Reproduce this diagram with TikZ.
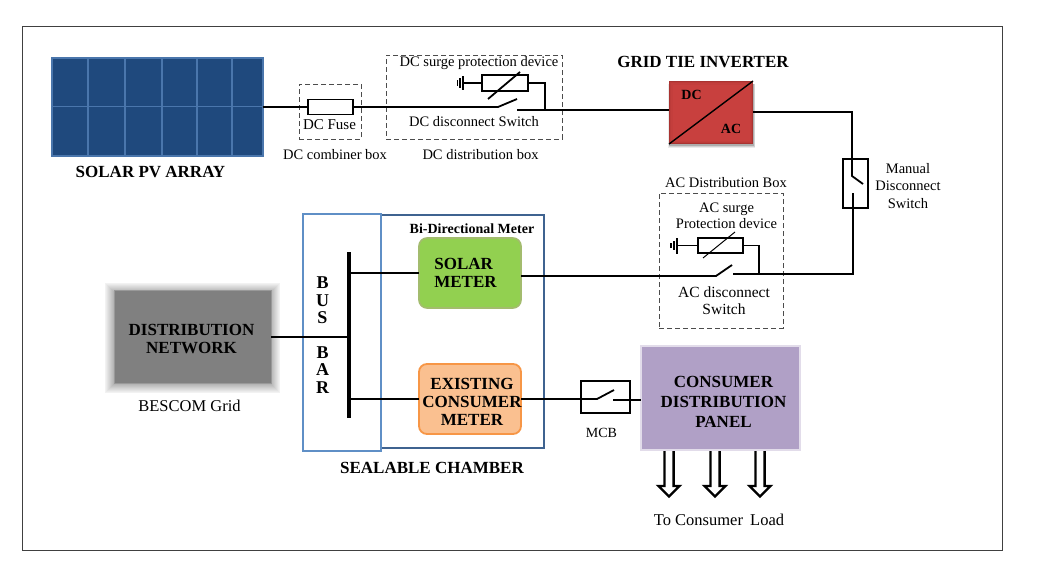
\documentclass[tikz,border=0pt]{standalone}
\usepackage{fontspec}
\setmainfont{Liberation Serif}
\newcommand{\fsz}[1]{\fontsize{#1}{#1}\selectfont}
\definecolor{panelblue}{HTML}{1F497D}
\definecolor{panelline}{HTML}{4A76AC}
\definecolor{busblue}{HTML}{5F8FC6}
\definecolor{chamberblue}{HTML}{3F6390}
\definecolor{solarfill}{HTML}{92D050}
\definecolor{solarline}{HTML}{A3BC6E}
\definecolor{meterfill}{HTML}{FAC090}
\definecolor{meterline}{HTML}{F79646}
\definecolor{cdpfill}{HTML}{B0A0C6}
\definecolor{cdpline}{HTML}{E2DCEA}
\definecolor{invfill}{HTML}{C8403E}
\definecolor{invedge}{HTML}{A93331}
\tikzset{
  x=1pt,y=-1pt,
  every node/.style={inner sep=0pt,outer sep=0pt},
  wire/.style={line width=1.8pt,black},
  dashbox/.style={draw=black!70,line width=1pt,dash pattern=on 5pt off 3pt},
  comp/.style={draw=black,line width=1.8pt,fill=white},
  lab/.style={font=\fsz{14.5},align=center,text=black},
  blab/.style={font=\fsz{17}\bfseries,align=center,text=black},
  loadarrow/.style={draw=black,line width=2.3pt,fill=white,line join=miter},
}
\begin{document}
\begin{tikzpicture}
\useasboundingbox (0,0) rectangle (1039,568);
\fill[white] (0,0) rectangle (1039,568);
\draw[black!75,line width=1pt] (22.5,26.5) rectangle (1002.5,550);

% Solar panel
\node[draw=panelline,line width=1.2pt,fill=panelblue,minimum width=211pt,minimum height=98pt] (panel) at (157.5,107) {};
\foreach \vx in {88,125,162,197,232}{\draw[panelline,line width=1.4pt] (\vx,58) -- (\vx,156);}
\draw[panelline,line width=1.4pt] (52,106.5) -- (263,106.5);
\node[blab] (pvlabel) at (150.5,172) {SOLAR PV ARRAY};

% DC combiner box
\node[dashbox,minimum width=62pt,minimum height=55pt] (combiner) at (330.2,111.7) {};
\node[comp,minimum width=45pt,minimum height=15pt] (fuse) at (330.5,107) {};
\node[lab,font=\fsz{15}] (fuselabel) at (329.5,125) {DC Fuse};
\node[lab] (combinerlabel) at (335,155) {DC combiner box};
\draw[wire] (panel.east) -- (fuse.west);

% DC distribution box
\node[dashbox,minimum width=176pt,minimum height=84pt] (dcbox) at (474.2,97.2) {};
\node[lab] (surgelabel) at (479,63.5) {DC surge protection device};
\node[lab] (dcswlabel) at (474,122) {DC disconnect Switch};
\node[lab] (dcboxlabel) at (480.5,155) {DC distribution box};
\node[comp,minimum width=46pt,minimum height=16pt] (dcres) at (505,83) {};
\coordinate (dchinge) at (498,107);
\coordinate (dcblade) at (517,99);
\coordinate (dccontact) at (517,110);
\coordinate (dcjoin) at (545,110);
\coordinate (dcup) at (545,83);
\coordinate (dcgnd) at (463,83);
\coordinate (dcdiagA) at (488,99);
\coordinate (dcdiagB) at (520,72);
\draw[wire] (fuse.east) -- (dchinge) -- (dcblade);
\draw[wire] (dcres.east) -- (dcup) -- (dcjoin);
\draw[wire] (dcres.west) -- (dcgnd);
\draw[wire] (463,76) -- (463,90);
\draw[line width=1.5pt] (460,78) -- (460,88);
\draw[line width=1.5pt] (457.5,80) -- (457.5,86);
\draw[wire] (dcdiagA) -- (dcdiagB);

% Inverter
\node[blab] (invlabel) at (703,62) {GRID TIE INVERTER};
\fill[black!8] (668,84) rectangle (755,148);
\fill[black!18] (669,84) rectangle (754.5,147);
\fill[black!32] (669,84) rectangle (754,145.5);
\node[fill=invedge,minimum width=84pt,minimum height=63pt] (inv) at (711,112.5) {};
\fill[invfill!60!invedge] (670,82) rectangle (752,142.5);
\fill[invfill!85!invedge] (671,83) rectangle (751,141.5);
\fill[invfill] (672.5,84.5) rectangle (750,140.5);
\draw[line width=1.4pt] (inv.south west) -- (inv.north east);
\node[font=\fsz{14}\bfseries] (invdc) at (691.5,95) {DC};
\node[font=\fsz{14}\bfseries] (invac) at (731,129) {AC};
\draw[wire] (dccontact) -- (dccontact -| inv.west);

% Manual disconnect
\node[comp,fill=white,minimum width=25pt,minimum height=49pt] (manual) at (855.5,183.5) {};
\coordinate (invturn) at (852,112);
\coordinate (mantopin) at (852,176);
\coordinate (manblade) at (863,184);
\coordinate (manlow) at (853,193);
\coordinate (mancorner) at (853,274);
\draw[wire] (inv.east |- invturn) -- (invturn) -- (mantopin) -- (manblade);
\node[lab] (manuallabel) at (908,186) {Manual\\[2.6pt]Disconnect\\[2.6pt]Switch};

% AC distribution box
\node[dashbox,minimum width=124pt,minimum height=135pt] (acbox) at (721.2,260.7) {};
\node[lab] (acboxlabel) at (726,182.5) {AC Distribution Box};
\node[lab] (acsurgelabel) at (726.5,215.5) {AC surge\\[1.5pt]Protection device};
\node[lab,font=\fsz{15.5}] (acswlabel) at (724,300.5) {AC disconnect\\[2pt]Switch};
\node[comp,minimum width=45pt,minimum height=15pt] (acres) at (720.5,245.5) {};
\coordinate (achinge) at (716,276);
\coordinate (acblade) at (732,265);
\coordinate (accontact) at (733,274);
\coordinate (acup) at (759,245.5);
\coordinate (acjoin) at (759,274);
\coordinate (acgnd) at (677,245.5);
\coordinate (acdiagA) at (703,258);
\coordinate (acdiagB) at (735,232);
\draw[wire] (acres.east) -- (acup) -- (acjoin);
\draw[wire] (acres.west) -- (acgnd);
\draw[wire] (677,238) -- (677,254);
\draw[line width=1.5pt] (674,241) -- (674,250);
\draw[line width=1.5pt] (671,243) -- (671,248);
\draw[line width=1pt] (acdiagA) -- (acdiagB);
\draw[wire] (accontact) -- (mancorner) -- (manlow);

% Chamber
\node[draw=chamberblue,line width=2.2pt,minimum width=163pt,minimum height=233pt] (chamber) at (462.5,331.5) {};
\node[draw=busblue,line width=2.4pt,minimum width=78pt,minimum height=237pt] (busbox) at (342,332.5) {};
\node[font=\fsz{14}\bfseries] (bidir) at (472,228.5) {Bi-Directional Meter};
\node[blab] (sealable) at (432,467.5) {SEALABLE CHAMBER};
\node[font=\fsz{18}\bfseries,align=center] (busletters) at (322.5,335) {B\\[-0.5pt]U\\[-0.5pt]S\\[16.5pt]B\\[-0.5pt]A\\[-0.5pt]R};
\node[fill=black,minimum width=4.4pt,minimum height=166pt] (bus) at (349,335) {};

% Meters
\node[draw=solarline,line width=1.6pt,fill=solarfill,rounded corners=8pt,minimum width=102pt,minimum height=70pt] (solar) at (470,273) {};
\node[font=\fsz{17}\bfseries,align=left] (solarlabel) at (465.5,273) {SOLAR\\[1pt]METER};
\node[draw=meterline,line width=1.8pt,fill=meterfill,rounded corners=8pt,minimum width=102pt,minimum height=70pt] (consumer) at (470,399) {};
\node[font=\fsz{17}\bfseries,align=center] (consumerlabel) at (472,401.5) {EXISTING\\[1pt]CONSUMER\\[1pt]METER};
\draw[wire] (bus.east |- solar.west) -- (solar.west);
\draw[wire] (bus.east |- consumer.west) -- (consumer.west);
\draw[wire] (solar.east |- achinge) -- (achinge) -- (acblade);

% Distribution network
\foreach \g/\lev in {9/5,8/8,7/11,6/14,5/17,4/20,3/23,2/26,1/29}{
  \fill[black!\lev] (114-\g,291-\g+1) rectangle (271+\g,384+\g);
}
\node[draw=black!40,line width=1pt,fill=black!50,minimum width=157pt,minimum height=93pt] (grid) at (192.5,337) {};
\node[blab] (gridlabel) at (191.5,339) {DISTRIBUTION\\[1pt]NETWORK};
\node[lab,font=\fsz{16.5}] (bescom) at (189.5,406) {BESCOM Grid};
\draw[wire] (grid.east) -- (bus.west |- grid.east);

% MCB
\node[comp,minimum width=49pt,minimum height=32pt] (mcb) at (605.5,397) {};
\coordinate (mcbhinge) at (597,399);
\coordinate (mcbblade) at (614,390);
\coordinate (mcbcontact) at (613,400);
\draw[wire] (consumer.east) -- (mcbhinge) -- (mcbblade);
\node[lab,font=\fsz{14}] (mcblabel) at (601.5,432.5) {MCB};

% Consumer panel
\node[draw=cdpline,line width=1.4pt,fill=cdpfill,minimum width=159pt,minimum height=104pt] (cdp) at (720.5,398) {};
\node[blab,font=\fsz{17}\bfseries] (cdplabel) at (723.5,401.5) {CONSUMER\\[3pt]DISTRIBUTION\\[3pt]PANEL};
\draw[wire] (mcbcontact) -- (mcbcontact -| cdp.west);

% Load arrows
\foreach \ax in {669,715,760}{
  \draw[loadarrow] (\ax-4.6,451) -- (\ax-4.6,486) -- (\ax-10.5,486) -- (\ax,496.5) -- (\ax+10.5,486) -- (\ax+4.6,486) -- (\ax+4.6,451);
}
\node[font=\fsz{16.5}] (loadlabel) at (719,519.5) {To Consumer\hspace{3pt} Load};
\end{tikzpicture}
\end{document}
